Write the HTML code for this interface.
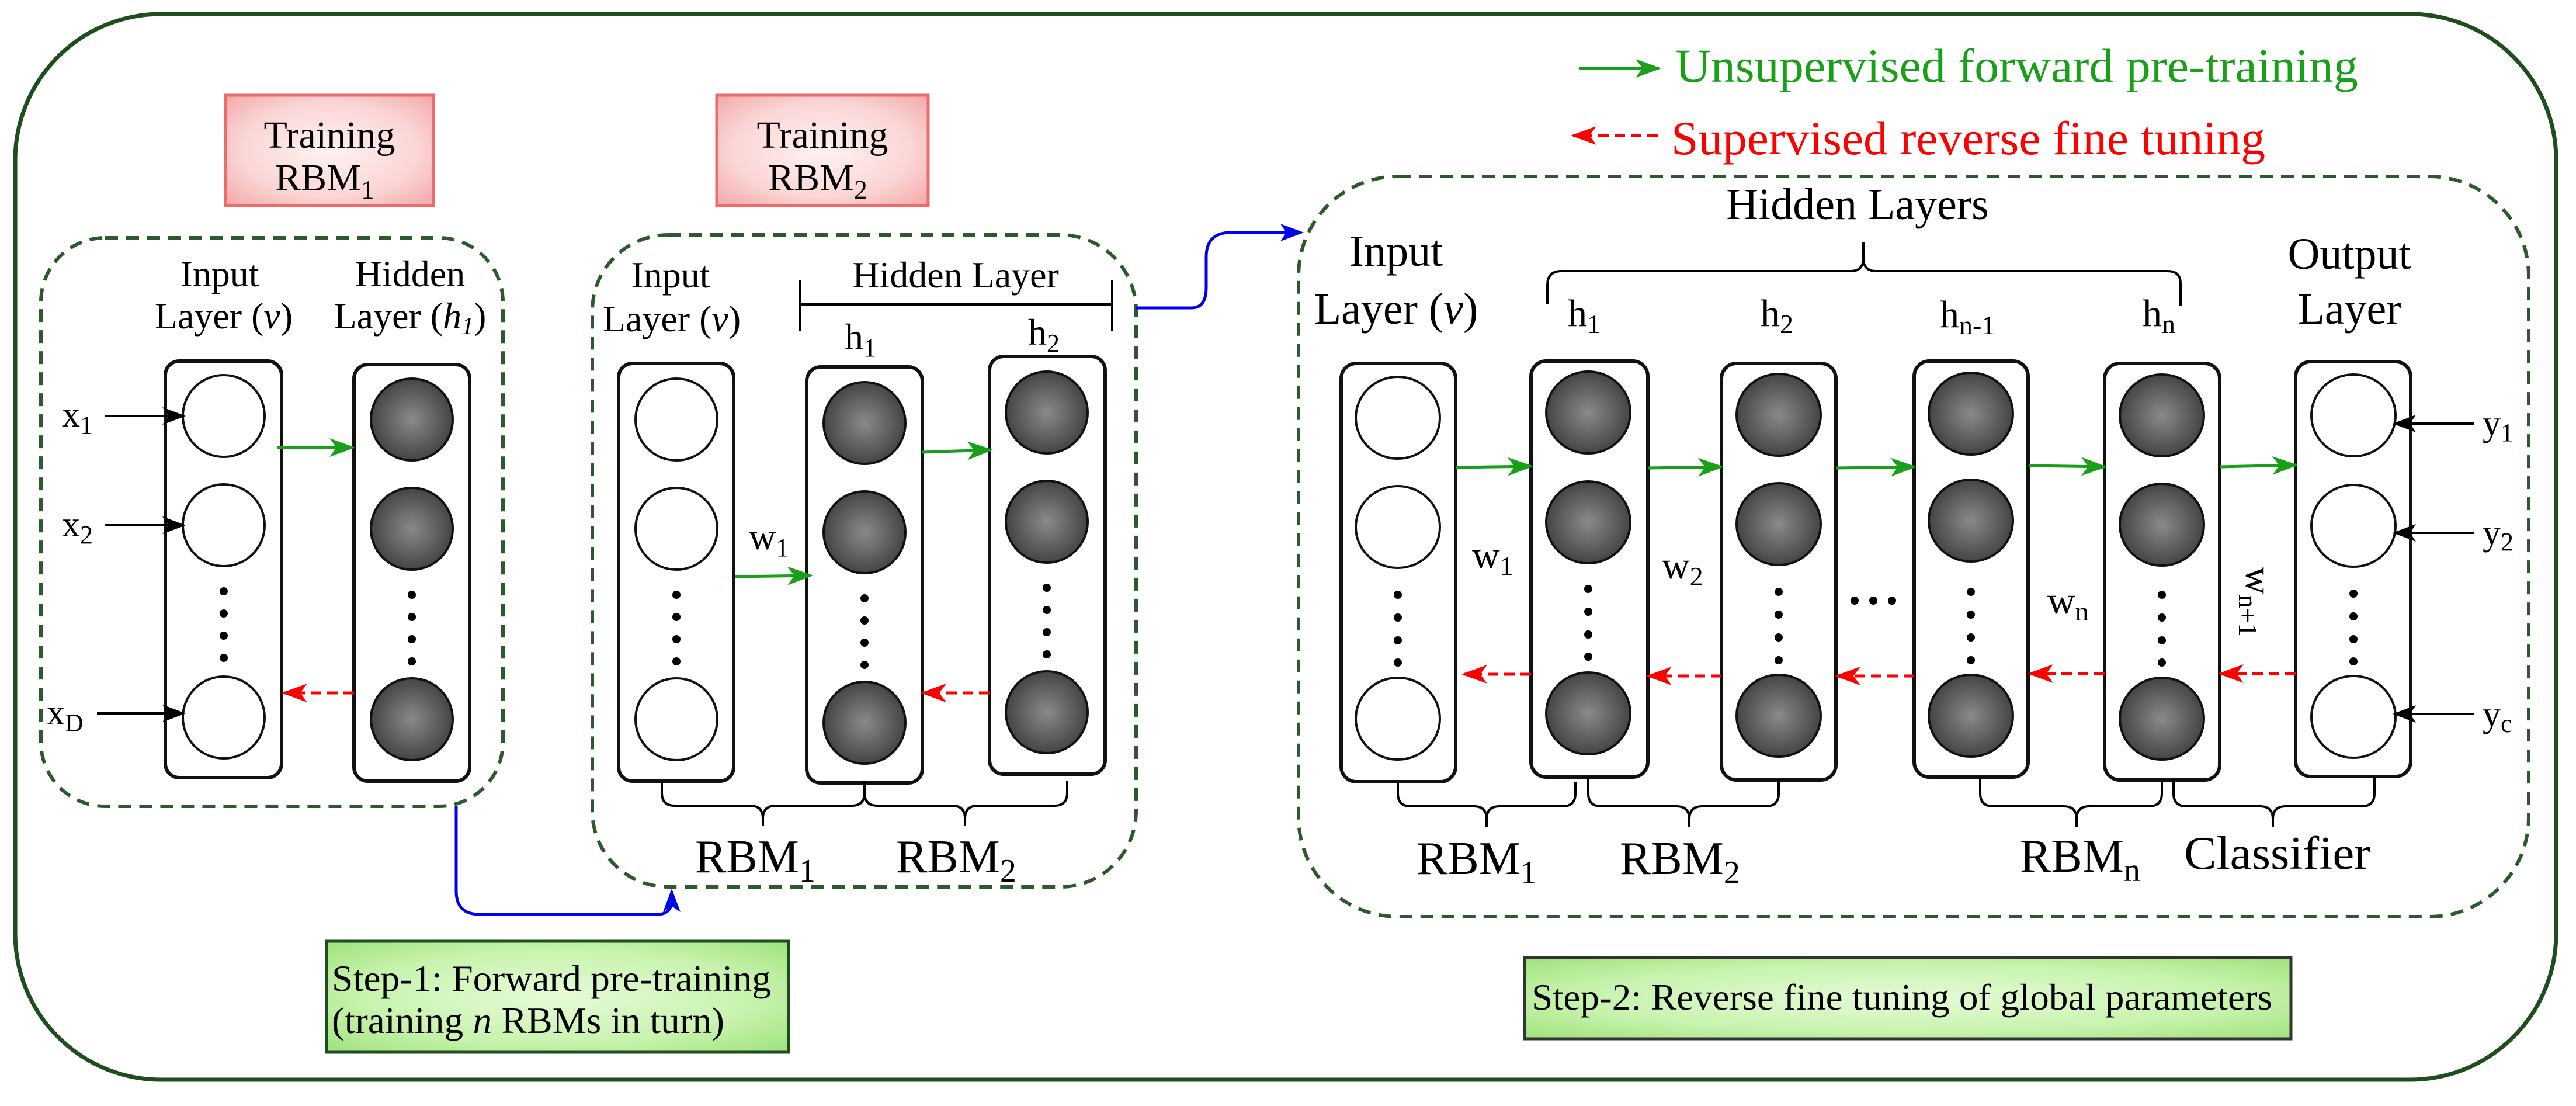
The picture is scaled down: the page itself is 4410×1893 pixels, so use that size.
<!DOCTYPE html>
<html><head><meta charset="utf-8"><style>
html,body{margin:0;padding:0;background:#fff}
svg{display:block}
svg, svg text, svg tspan{font-family:"Liberation Serif","Times New Roman",serif !important}
</style></head><body>
<svg width="4410" height="1893" viewBox="0 0 4410 1893" xmlns="http://www.w3.org/2000/svg" font-family="Liberation Serif, serif">
<defs>
<radialGradient id="dk" cx="50%" cy="50%" r="55%"><stop offset="0" stop-color="#8a8a8a"/><stop offset="1" stop-color="#3e3e3e"/></radialGradient>
<radialGradient id="pk" cx="50%" cy="50%" r="70%"><stop offset="0" stop-color="#fff2f2"/><stop offset="0.6" stop-color="#fbd6d6"/><stop offset="1" stop-color="#f3a8a8"/></radialGradient>
<radialGradient id="gr" cx="50%" cy="50%" r="70%"><stop offset="0" stop-color="#e6fbd8"/><stop offset="0.6" stop-color="#c8f3ae"/><stop offset="1" stop-color="#9fe27c"/></radialGradient>
<marker id="ag" markerUnits="userSpaceOnUse" markerWidth="44" markerHeight="36" refX="40" refY="18" orient="auto"><path d="M0,2 L44,18 L0,34 L12,18 Z" fill="#18a018"/></marker>
<marker id="ar" markerUnits="userSpaceOnUse" markerWidth="44" markerHeight="36" refX="40" refY="18" orient="auto"><path d="M0,2 L44,18 L0,34 L12,18 Z" fill="#ff0000"/></marker>
<marker id="ak" markerUnits="userSpaceOnUse" markerWidth="40" markerHeight="34" refX="36" refY="17" orient="auto"><path d="M0,2 L40,17 L0,32 L10,17 Z" fill="#000"/></marker>
<marker id="ab" markerUnits="userSpaceOnUse" markerWidth="40" markerHeight="34" refX="36" refY="17" orient="auto"><path d="M0,2 L40,17 L0,32 L10,17 Z" fill="#0000ee"/></marker>
</defs>

<rect x="26" y="24" width="4350" height="1824" rx="250" fill="none" stroke="#1e4d1e" stroke-width="7"/>

<rect x="386" y="163" width="356" height="189" fill="url(#pk)" stroke="#ee6b6b" stroke-width="5"/>
<text x="564" y="253" font-size="66" text-anchor="middle">Training</text>
<text x="556" y="326" font-size="66" text-anchor="middle">RBM<tspan font-size="46" dy="14">1</tspan></text>
<rect x="1227" y="163" width="362" height="189" fill="url(#pk)" stroke="#ee6b6b" stroke-width="5"/>
<text x="1408" y="253" font-size="66" text-anchor="middle">Training</text>
<text x="1400" y="326" font-size="66" text-anchor="middle">RBM<tspan font-size="46" dy="14">2</tspan></text>

<g fill="none" stroke="#2d5a2d" stroke-width="6" stroke-dasharray="22,14">
<rect x="70" y="407" width="791" height="973" rx="110"/>
<rect x="1014" y="402" width="931" height="1116" rx="130"/>
<rect x="2223" y="302" width="2106" height="1267" rx="170"/>
</g>

<g stroke="#111" stroke-width="6" fill="#fff">
<rect x="283" y="618" width="199" height="713" rx="24"/>
<rect x="606" y="624" width="198" height="713" rx="24"/>
<rect x="1059" y="622" width="197" height="715" rx="24"/>
<rect x="1381" y="628" width="198" height="712" rx="24"/>
<rect x="1694" y="610" width="198" height="715" rx="24"/>
<rect x="2296" y="622" width="196" height="716" rx="26"/>
<rect x="2621" y="618" width="200" height="712" rx="26"/>
<rect x="2947" y="622" width="196" height="713" rx="26"/>
<rect x="3277" y="618" width="195" height="712" rx="26"/>
<rect x="3603" y="622" width="197" height="713" rx="26"/>
<rect x="3930" y="619" width="197" height="710" rx="26"/>
</g>

<g stroke="#111" stroke-width="4">
<g fill="#fff">
<circle cx="383" cy="712" r="70"/><circle cx="383" cy="899" r="70"/><circle cx="383" cy="1228" r="70"/>
<circle cx="1158" cy="718" r="70"/><circle cx="1158" cy="905" r="70"/><circle cx="1158" cy="1231" r="70"/>
<ellipse cx="2393" cy="715" rx="72" ry="70"/><ellipse cx="2393" cy="902" rx="72" ry="70"/><ellipse cx="2393" cy="1230" rx="72" ry="70"/>
<ellipse cx="4029" cy="711" rx="72" ry="70"/><ellipse cx="4029" cy="900" rx="72" ry="70"/><ellipse cx="4029" cy="1227" rx="72" ry="70"/>
</g>
<g fill="url(#dk)">
<circle cx="705" cy="718" r="70"/><circle cx="705" cy="905" r="70"/><circle cx="705" cy="1231" r="70"/>
<circle cx="1480" cy="724" r="70"/><circle cx="1480" cy="911" r="70"/><circle cx="1480" cy="1237" r="70"/>
<circle cx="1792" cy="706" r="70"/><circle cx="1792" cy="893" r="70"/><circle cx="1792" cy="1219" r="70"/>
<ellipse cx="2719" cy="706" rx="72" ry="70"/><ellipse cx="2719" cy="894" rx="72" ry="70"/><ellipse cx="2719" cy="1221" rx="72" ry="70"/>
<ellipse cx="3045" cy="710" rx="72" ry="70"/><ellipse cx="3045" cy="897" rx="72" ry="70"/><ellipse cx="3045" cy="1225" rx="72" ry="70"/>
<ellipse cx="3374" cy="708" rx="72" ry="70"/><ellipse cx="3374" cy="891" rx="72" ry="70"/><ellipse cx="3374" cy="1225" rx="72" ry="70"/>
<ellipse cx="3701" cy="711" rx="72" ry="70"/><ellipse cx="3701" cy="898" rx="72" ry="70"/><ellipse cx="3701" cy="1230" rx="72" ry="70"/>
</g>
</g>

<g fill="#000">
<circle cx="383" cy="1012" r="7"/><circle cx="383" cy="1050" r="7"/><circle cx="383" cy="1088" r="7"/><circle cx="383" cy="1126" r="7"/>
<circle cx="705" cy="1018" r="7"/><circle cx="705" cy="1056" r="7"/><circle cx="705" cy="1094" r="7"/><circle cx="705" cy="1132" r="7"/>
<circle cx="1158" cy="1018" r="7"/><circle cx="1158" cy="1056" r="7"/><circle cx="1158" cy="1094" r="7"/><circle cx="1158" cy="1132" r="7"/>
<circle cx="1480" cy="1024" r="7"/><circle cx="1480" cy="1062" r="7"/><circle cx="1480" cy="1100" r="7"/><circle cx="1480" cy="1138" r="7"/>
<circle cx="1792" cy="1006" r="7"/><circle cx="1792" cy="1044" r="7"/><circle cx="1792" cy="1082" r="7"/><circle cx="1792" cy="1120" r="7"/>
<circle cx="2393" cy="1018" r="7"/><circle cx="2393" cy="1057" r="7"/><circle cx="2393" cy="1096" r="7"/><circle cx="2393" cy="1134" r="7"/>
<circle cx="2719" cy="1008" r="7"/><circle cx="2719" cy="1047" r="7"/><circle cx="2719" cy="1086" r="7"/><circle cx="2719" cy="1124" r="7"/>
<circle cx="3045" cy="1013" r="7"/><circle cx="3045" cy="1052" r="7"/><circle cx="3045" cy="1091" r="7"/><circle cx="3045" cy="1130" r="7"/>
<circle cx="3374" cy="1013" r="7"/><circle cx="3374" cy="1052" r="7"/><circle cx="3374" cy="1091" r="7"/><circle cx="3374" cy="1130" r="7"/>
<circle cx="3701" cy="1018" r="7"/><circle cx="3701" cy="1057" r="7"/><circle cx="3701" cy="1096" r="7"/><circle cx="3701" cy="1134" r="7"/>
<circle cx="4029" cy="1016" r="7"/><circle cx="4029" cy="1055" r="7"/><circle cx="4029" cy="1094" r="7"/><circle cx="4029" cy="1132" r="7"/>
<circle cx="3175" cy="1028" r="7"/><circle cx="3207" cy="1028" r="7"/><circle cx="3239" cy="1028" r="7"/>
</g>

<g stroke="#18a018" stroke-width="5" fill="none" marker-end="url(#ag)">
<line x1="474" y1="766" x2="604" y2="766"/>
<line x1="1258" y1="987" x2="1388" y2="985"/>
<line x1="1579" y1="774" x2="1696" y2="770"/>
<line x1="2492" y1="800" x2="2621" y2="798"/>
<line x1="2821" y1="801" x2="2947" y2="799"/>
<line x1="3143" y1="801" x2="3277" y2="799"/>
<line x1="3473" y1="797" x2="3603" y2="799"/>
<line x1="3800" y1="799" x2="3930" y2="796"/>
<line x1="2704" y1="117" x2="2840" y2="117"/>
</g>
<g stroke="#ff0000" stroke-width="5" fill="none" stroke-dasharray="18,10" marker-end="url(#ar)">
<line x1="606" y1="1186" x2="486" y2="1186"/>
<line x1="1694" y1="1186" x2="1580" y2="1186"/>
<line x1="2621" y1="1154" x2="2506" y2="1154"/>
<line x1="2947" y1="1157" x2="2822" y2="1157"/>
<line x1="3277" y1="1157" x2="3145" y2="1157"/>
<line x1="3603" y1="1153" x2="3475" y2="1153"/>
<line x1="3930" y1="1153" x2="3801" y2="1153"/>
<line x1="2838" y1="232" x2="2693" y2="232"/>
</g>

<g stroke="#000" stroke-width="4" marker-end="url(#ak)">
<line x1="179" y1="712" x2="314" y2="712"/>
<line x1="179" y1="899" x2="314" y2="899"/>
<line x1="166" y1="1221" x2="314" y2="1221"/>
<line x1="4235" y1="725" x2="4100" y2="725"/>
<line x1="4235" y1="912" x2="4100" y2="912"/>
<line x1="4235" y1="1222" x2="4100" y2="1222"/>
</g>
<g font-size="62">
<text x="106" y="730">x<tspan font-size="44" dy="12">1</tspan></text>
<text x="106" y="918">x<tspan font-size="44" dy="12">2</tspan></text>
<text x="80" y="1240">x<tspan font-size="44" dy="12">D</tspan></text>
<text x="4250" y="745">y<tspan font-size="44" dy="10">1</tspan></text>
<text x="4250" y="932">y<tspan font-size="44" dy="10">2</tspan></text>
<text x="4250" y="1243">y<tspan font-size="44" dy="10">c</tspan></text>
</g>

<g font-size="64" text-anchor="middle">
<text x="376" y="490">Input</text>
<text x="383" y="562">Layer (<tspan font-style="italic">v</tspan>)</text>
<text x="702" y="490">Hidden</text>
<text x="702" y="562">Layer (<tspan font-style="italic">h<tspan font-size="42" dy="10">1</tspan></tspan><tspan dy="-10">)</tspan></text>
<text x="1148" y="492">Input</text>
<text x="1150" y="567">Layer (<tspan font-style="italic">v</tspan>)</text>
<text x="1636" y="492">Hidden Layer</text>
</g>
<g stroke="#000" stroke-width="4" fill="none">
<line x1="1369" y1="521" x2="1904" y2="521"/>
<line x1="1369" y1="480" x2="1369" y2="566"/>
<line x1="1904" y1="480" x2="1904" y2="566"/>
</g>
<g font-size="64">
<text x="1446" y="598">h<tspan font-size="44" dy="12">1</tspan></text>
<text x="1760" y="590">h<tspan font-size="44" dy="12">2</tspan></text>
<text x="1282" y="940">w<tspan font-size="44" dy="12">1</tspan></text>
</g>

<g stroke="#000" stroke-width="4" fill="none">
<path d="M1133,1337 v20 q0,22 22,22 h129 q22,0 22,22 v12 v-12 q0,-22 22,-22 h130 q22,0 22,-22 v-20"/>
<path d="M1480,1340 v17 q0,22 22,22 h128 q22,0 22,22 v12 v-12 q0,-22 22,-22 h131 q22,0 22,-22 v-20"/>
<path d="M2393,1338 v20 q0,22 22,22 h108 q22,0 22,22 v14 v-14 q0,-22 22,-22 h108 q22,0 22,-22 v-20"/>
<path d="M2719,1330 v28 q0,22 22,22 h129 q22,0 22,22 v14 v-14 q0,-22 22,-22 h109 q22,0 22,-22 v-25"/>
<path d="M3390,1330 v28 q0,22 22,22 h121 q22,0 22,22 v14 v-14 q0,-22 22,-22 h102 q22,0 22,-22 v-23"/>
<path d="M3721,1335 v23 q0,22 22,22 h126 q22,0 22,22 v14 v-14 q0,-22 22,-22 h130 q22,0 22,-22 v-27"/>
<path d="M2649,520 v-32 q0,-24 24,-24 h495 q22,0 22,-22 v-28 v28 q0,22 22,22 h499 q22,0 22,22 v38"/>
</g>
<g font-size="80">
<text x="1190" y="1493">RBM<tspan font-size="56" dy="16">1</tspan></text>
<text x="1534" y="1493">RBM<tspan font-size="56" dy="16">2</tspan></text>
<text x="2425" y="1496">RBM<tspan font-size="56" dy="16">1</tspan></text>
<text x="2773" y="1496">RBM<tspan font-size="56" dy="16">2</tspan></text>
<text x="3458" y="1492">RBM<tspan font-size="56" dy="16">n</tspan></text>
<text x="3739" y="1487" textLength="319" lengthAdjust="spacingAndGlyphs">Classifier</text>
</g>

<g font-size="76" text-anchor="middle">
<text x="2390" y="455">Input</text>
<text x="2390" y="554">Layer (<tspan font-style="italic">v</tspan>)</text>
<text x="4022" y="460">Output</text>
<text x="4022" y="554">Layer</text>
<text x="3180" y="375">Hidden Layers</text>
</g>
<g font-size="66">
<text x="2684" y="558">h<tspan font-size="46" dy="12">1</tspan></text>
<text x="3014" y="558">h<tspan font-size="46" dy="12">2</tspan></text>
<text x="3321" y="560">h<tspan font-size="46" dy="12">n-1</tspan></text>
<text x="3668" y="558">h<tspan font-size="46" dy="12">n</tspan></text>
<text x="2520" y="972">w<tspan font-size="46" dy="12">1</tspan></text>
<text x="2845" y="990">w<tspan font-size="46" dy="12">2</tspan></text>
<text x="3505" y="1050">w<tspan font-size="46" dy="12">n</tspan></text>
<text transform="translate(3845,970) rotate(90)">w<tspan font-size="46" dy="12">n+1</tspan></text>
</g>

<text x="2868" y="140" font-size="82" style="fill:#18a018" textLength="1169" lengthAdjust="spacingAndGlyphs">Unsupervised forward pre-training</text>
<text x="2861" y="264" font-size="82" style="fill:#ff0000" textLength="1017" lengthAdjust="spacingAndGlyphs">Supervised reverse fine tuning</text>

<path d="M781,1380 V1525 q0,40 40,40 H1125 q25,0 25,-25 V1525" fill="none" stroke="#0000ee" stroke-width="5" marker-end="url(#ab)"/>
<path d="M1945,527 H2040 q25,0 25,-35 V440 q0,-42 42,-42 H2228" fill="none" stroke="#0000ee" stroke-width="5" marker-end="url(#ab)"/>

<rect x="559" y="1611" width="791" height="190" fill="url(#gr)" stroke="#1e4d1e" stroke-width="5"/>
<text x="568" y="1696" font-size="64" textLength="752" lengthAdjust="spacingAndGlyphs">Step-1: Forward pre-training</text>
<text x="568" y="1768" font-size="64" textLength="672" lengthAdjust="spacingAndGlyphs">(training <tspan font-style="italic">n</tspan> RBMs in turn)</text>
<rect x="2610" y="1639" width="1312" height="139" fill="url(#gr)" stroke="#333" stroke-width="5"/>
<text x="2622" y="1728" font-size="64" textLength="1268" lengthAdjust="spacingAndGlyphs">Step-2: Reverse fine tuning of global parameters</text>
</svg>
</body></html>
